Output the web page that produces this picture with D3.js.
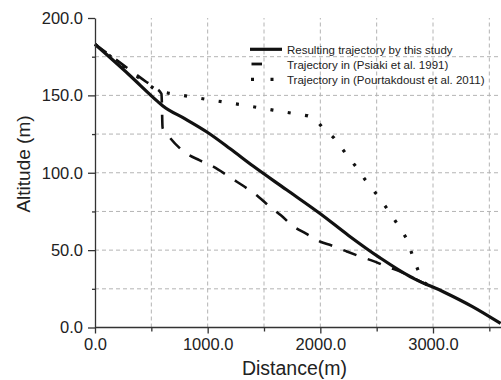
<!DOCTYPE html>
<html>
<head>
<meta charset="utf-8">
<script src="https://cdn.jsdelivr.net/npm/d3@7"></script>
<style>
  html, body { margin: 0; padding: 0; background: #fff; }
  svg { display: block; }
  text { font-family: "Liberation Sans", Arial, sans-serif; fill: #222; }
</style>
</head>
<body>
<svg id="chart" width="501" height="380"></svg>
<script>
// ---- data ----
const seriesNames = [
  "Resulting trajectory by this study",
  "Trajectory in (Psiaki et al. 1991)",
  "Trajectory in (Pourtakdoust et al. 2011)"
];
const studyDist = [0, 300, 560, 600, 800, 1000, 1200, 1400, 1700, 2000, 2250, 2530, 2800, 2840, 3100, 3350, 3600];
const studyAlt  = [183, 163.5, 145.8, 143.3, 134.8, 126, 115.5, 104.5, 89, 73.5, 59.5, 45, 32.8, 31.3, 22.8, 13.5, 2.6];

const psiakiDist = [0, 150, 300, 450, 520, 590, 600, 650, 800, 930, 1050, 1200, 1450, 1555, 1650, 1750, 1870, 2000, 2100, 2240, 2360, 2490, 2600, 2700, 2830, 2950];
const psiakiAlt  = [183, 175, 167, 159, 155.5, 151, 129, 124, 113, 108, 104, 97, 84.5, 78, 72.5, 66, 60.8, 55.4, 53, 49, 45.7, 42.4, 39, 36.5, 31.7, 27.5];

const pourDist = [0, 300, 550, 650, 1000, 1280, 1580, 1890, 1960, 2010, 2120, 2220, 2310, 2400, 2500, 2590, 2680, 2770, 2820, 2875, 2910, 2950];
const pourAlt  = [183, 166, 153, 151.5, 147.3, 144.2, 140.5, 136.8, 134.5, 130, 122.6, 113, 104.5, 95.3, 86, 77, 67.2, 57, 46, 35.5, 29.5, 27.8];

const xMajorTicks = [0, 1000, 2000, 3000];
const xMinorTicks = [500, 1500, 2500, 3500];
const yMajorTicks = [0, 50, 100, 150, 200];
const yMinorTicks = [25, 75, 125, 175];
const xGridTicks = [500, 1000, 1500, 2000, 2500, 3000, 3500];
const yGridTicks = [25, 50, 75, 100, 125, 150, 175];

// ---- chart ----
const svg = d3.select("#chart");
svg.append("rect").attr("width", 501).attr("height", 380).attr("fill", "#fff");

const x = d3.scaleLinear().domain([0, 3600]).range([95, 500.6]);
const y = d3.scaleLinear().domain([0, 200]).range([327.5, 18]);

// grid
const grid = svg.append("g").attr("stroke", "#b4b4b4").attr("stroke-width", 1).attr("stroke-dasharray", "4,3").attr("fill", "none");
grid.selectAll("line.h").data(yGridTicks).join("line").attr("class", "h")
  .attr("x1", x(0)).attr("x2", 501).attr("y1", d => y(d)).attr("y2", d => y(d));
grid.selectAll("line.v").data(xGridTicks).join("line").attr("class", "v")
  .attr("y1", y(0)).attr("y2", y(200)).attr("x1", d => x(d)).attr("x2", d => x(d));

// series
const mk = (xs, ys) => xs.map((d, i) => [d, ys[i]]);
const line = d3.line().x(d => x(d[0])).y(d => y(d[1]));
const smooth = d3.line().x(d => x(d[0])).y(d => y(d[1])).curve(d3.curveMonotoneX);

svg.append("path").datum(mk(pourDist, pourAlt)).attr("d", line)
  .attr("fill", "none").attr("stroke", "#111").attr("stroke-width", 3.2)
  .attr("stroke-dasharray", "3,14.5");
svg.append("path").datum(mk(psiakiDist, psiakiAlt)).attr("d", smooth)
  .attr("fill", "none").attr("stroke", "#111").attr("stroke-width", 2.6)
  .attr("stroke-dasharray", "14,12");
svg.append("path").datum(mk(studyDist, studyAlt)).attr("d", smooth)
  .attr("fill", "none").attr("stroke", "#111").attr("stroke-width", 3.2)
  .attr("stroke-linejoin", "round");

// axes
const fmt = d3.format(".1f");
svg.append("g").attr("transform", `translate(${x(0)},0)`)
  .call(d3.axisLeft(y).tickValues(yMajorTicks).tickFormat(fmt).tickSize(7).tickPadding(5).tickSizeOuter(0));
svg.append("g").attr("transform", `translate(${x(0)},0)`)
  .call(d3.axisLeft(y).tickValues(yMinorTicks).tickFormat("").tickSize(3).tickSizeOuter(0))
  .select(".domain").remove();
const xAxis = svg.append("g").attr("transform", `translate(0,${y(0)})`)
  .call(d3.axisBottom(x).tickValues(xMajorTicks).tickFormat(fmt).tickSize(6).tickPadding(5).tickSizeOuter(0));
svg.append("g").attr("transform", `translate(0,${y(0)})`)
  .call(d3.axisBottom(x).tickValues(xMinorTicks).tickFormat("").tickSize(4).tickSizeOuter(0))
  .select(".domain").remove();

svg.selectAll(".tick line, .domain").attr("stroke", "#333").attr("stroke-width", 1.3);
svg.selectAll(".tick text").attr("font-size", "16.5px").attr("fill", "#222")
  .attr("font-family", "'Liberation Sans', Arial, sans-serif");
xAxis.select(".domain").attr("d", `M${x(0)},0H501`);

// axis titles
svg.append("text").attr("x", 294.5).attr("y", 375).attr("text-anchor", "middle")
  .attr("font-size", "19.5px").text("Distance(m)");
svg.append("text").attr("transform", "translate(30,164) rotate(-90)").attr("text-anchor", "middle")
  .attr("font-size", "19px").text("Altitude (m)");

// legend
const lg = svg.append("g");
const rows = [49.3, 64, 79.3];
lg.append("line").attr("x1", 250).attr("x2", 282).attr("y1", rows[0]).attr("y2", rows[0])
  .attr("stroke", "#111").attr("stroke-width", 3.2);
lg.append("line").attr("x1", 251.5).attr("x2", 262).attr("y1", rows[1]).attr("y2", rows[1])
  .attr("stroke", "#111").attr("stroke-width", 2.8);
lg.append("line").attr("x1", 251).attr("x2", 282).attr("y1", rows[2]).attr("y2", rows[2])
  .attr("stroke", "#111").attr("stroke-width", 3.2).attr("stroke-dasharray", "3,16.5");
lg.selectAll("text").data(seriesNames).join("text")
  .attr("x", 287).attr("y", (d, i) => rows[i] + 4.5)
  .attr("font-size", "11.5px").text(d => d);
</script>
</body>
</html>
